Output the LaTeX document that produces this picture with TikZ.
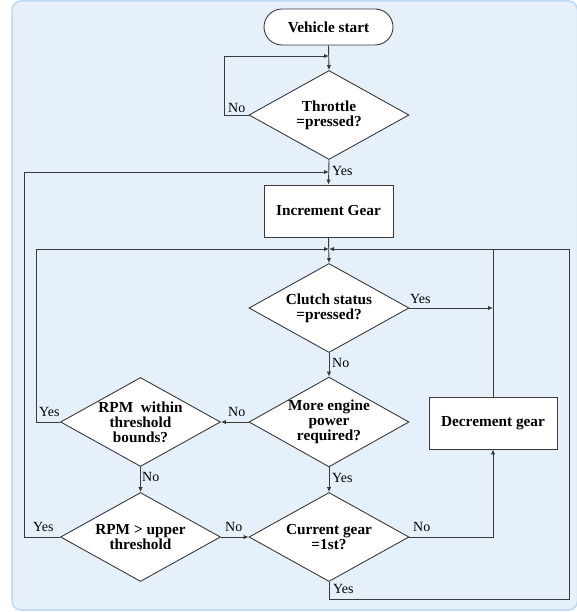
\documentclass[tikz,border=0pt]{standalone}
\usepackage{fontspec}
\setmainfont{Liberation Serif}
\usetikzlibrary{shapes.geometric,arrows.meta,calc}
\definecolor{bgfill}{HTML}{E5F0FA}
\definecolor{bgline}{HTML}{BCD9F2}
\definecolor{ink}{HTML}{3A3A3A}
\tikzset{
  base/.style={draw=ink, fill=white, line width=0.9pt, font=\fontsize{15.3}{15}\selectfont\bfseries, align=center, inner sep=0pt},
  startbox/.style={base, rounded corners=18pt, minimum width=129pt, minimum height=36pt},
  procbox/.style={base, minimum width=129pt, minimum height=52pt},
  decbox/.style={base, diamond, aspect=1.78, minimum width=160pt, minimum height=89pt},
  conn/.style={draw=ink, line width=0.9pt},
  arr/.style={conn, -{Latex[length=5pt,width=4.5pt]}},
  lbl/.style={font=\fontsize{14}{14}\selectfont, inner sep=0pt, text=black}
}
\begin{document}
\begin{tikzpicture}[x=1pt,y=-1pt]
\useasboundingbox (0,0) rectangle (577,612);
\fill[bgfill, draw=bgline, line width=1.5pt, rounded corners=9pt] (12,1) rectangle (577.5,610);

\node[startbox] (start) at (328.5,27) {Vehicle start};
\node[decbox] (thr) at (329,115) {Throttle\\=pressed?};
\node[procbox] (inc) at (328.5,211) {Increment Gear};
\node[decbox] (clu) at (329,308) {Clutch status\\=pressed?};
\node[decbox] (more) at (329,422) {More engine\\power\\required?};
\node[decbox] (rpmw) at (140.5,422) {RPM~~within\\threshold\\bounds?};
\node[decbox] (rpmu) at (140.5,537) {RPM > upper\\threshold};
\node[decbox] (cur) at (329,537) {Current gear\\=1st?};
\node[procbox, minimum width=128pt] (dec) at (493,423) {Decrement gear};

\coordinate (t1) at (329,56);
\coordinate (c1) at (329,172);
\coordinate (c2) at (329,249);
\coordinate (tl) at (224,56);
\coordinate (ol) at (24,537);
\coordinate (il) at (36,422);
\coordinate (rb) at (329,599);
\coordinate (rr) at (569,599);
\coordinate (rt) at (569,249);
\coordinate (dj) at (493,249);
\coordinate (dy) at (493,308);
\coordinate (dn) at (493,537);

% connectors
\draw[arr] (start.south) -- (thr.north);
\draw[arr] (thr.west) -| (tl) -- (t1);
\draw[arr] (thr.south) -- (inc.north);
\draw[arr] (rpmu.west) -- (ol) |- (c1);
\draw[arr] (inc.south) -- (clu.north);
\draw[arr] (rpmw.west) -- (il) |- (c2);
\draw[arr] (cur.south) -- (rb) -- (rr) -- (rt) -- (c2);
\draw[conn] (dec.north) -- (dj);
\draw[arr] (clu.east) -- (dy);
\draw[arr] (clu.south) -- (more.north);
\draw[arr] (more.west) -- (rpmw.east);
\draw[arr] (more.south) -- (cur.north);
\draw[arr] (rpmw.south) -- (rpmu.north);
\draw[arr] (rpmu.east) -- (cur.west);
\draw[arr] (cur.east) -- (dn) -- (dec.south);

% labels
\node[lbl, anchor=west] at (228,108) {No};
\node[lbl, anchor=west] at (332,171) {Yes};
\node[lbl, anchor=west] at (410,299) {Yes};
\node[lbl, anchor=west] at (332,363) {No};
\node[lbl, anchor=west] at (228,412) {No};
\node[lbl, anchor=west] at (39,412) {Yes};
\node[lbl, anchor=west] at (142,477) {No};
\node[lbl, anchor=west] at (332,478) {Yes};
\node[lbl, anchor=west] at (33,527) {Yes};
\node[lbl, anchor=west] at (225,527) {No};
\node[lbl, anchor=west] at (413,527) {No};
\node[lbl, anchor=west] at (333,589) {Yes};
\end{tikzpicture}
\end{document}
